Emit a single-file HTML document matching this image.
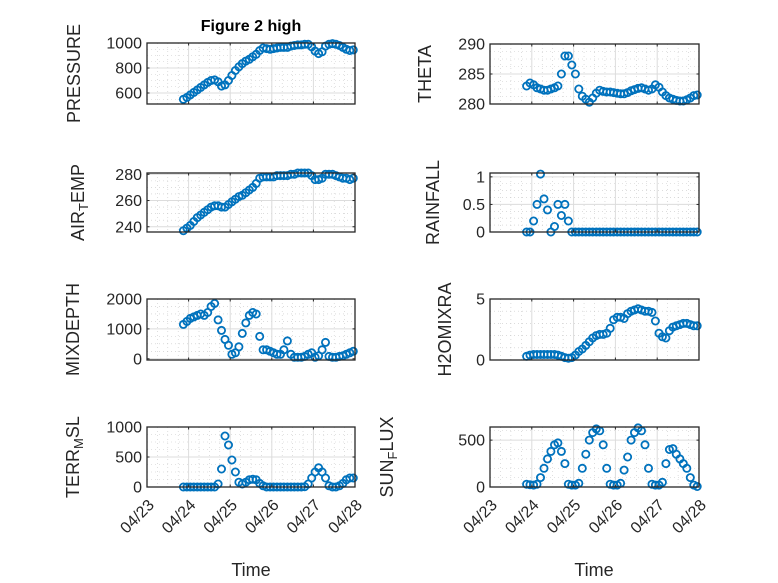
<!DOCTYPE html>
<html><head><meta charset="utf-8"><style>
html,body{margin:0;padding:0;background:#fff;}
svg{display:block;font-family:"Liberation Sans","DejaVu Sans",sans-serif;}
</style></head><body>
<svg id="fig" width="778" height="583" viewBox="0 0 778 583" xmlns="http://www.w3.org/2000/svg">
<rect x="0" y="0" width="778" height="583" fill="#fff"/>
<text x="251" y="31" text-anchor="middle" font-size="16" font-weight="bold" fill="#000">Figure 2 high</text>
<text x="251" y="576" text-anchor="middle" font-size="18" fill="#262626">Time</text>
<text x="594" y="576" text-anchor="middle" font-size="18" fill="#262626">Time</text>
</svg>
<script>
// time in days after 04/23 00:00, 2-hour steps
const times = [0.875,0.958,1.042,1.125,1.208,1.292,1.375,1.458,1.542,1.625,1.708,1.792,1.875,1.958,2.042,2.125,2.208,2.292,2.375,2.458,2.542,2.625,2.708,2.792,2.875,2.958,3.042,3.125,3.208,3.292,3.375,3.458,3.542,3.625,3.708,3.792,3.875,3.958,4.042,4.125,4.208,4.292,4.375,4.458,4.542,4.625,4.708,4.792,4.875,4.958];
const xTickLabels = ["04/23","04/24","04/25","04/26","04/27","04/28"];
const pressure = [550,565,585,605,625,645,665,685,700,705,690,655,665,700,740,780,810,835,855,870,890,910,940,960,955,950,955,960,965,965,965,975,980,985,985,990,990,970,935,915,930,975,990,995,990,980,965,950,940,945];
const airTemp = [237,239,241,244,247,249,251,253,255,256,256,255,255,257,259,261,263,264,266,268,270,273,277,278,278,278,278,279,279,279,279,280,280,281,281,281,281,279,276,276,277,280,280,280,279,278,277,277,276,277];
const mixDepth = [1150,1250,1350,1400,1450,1500,1450,1550,1750,1850,1300,950,650,450,150,200,400,850,1200,1450,1550,1500,750,300,300,250,200,150,150,300,600,150,50,50,50,80,150,200,50,100,300,550,80,50,50,80,100,150,200,250];
const terrMsl = [0,0,0,0,0,0,0,0,0,0,50,300,850,700,450,250,80,50,80,120,130,120,60,20,0,0,0,0,0,0,0,0,0,0,0,5,50,150,250,320,250,150,20,0,0,20,60,120,150,150];
const theta = [283,283.5,283.2,282.7,282.5,282.3,282.3,282.5,282.7,283,285,288,288,286.5,285,282.5,281.3,280.8,280.3,281,281.8,282.3,282.1,282,282,281.9,281.8,281.7,281.7,281.9,282.2,282.4,282.6,282.7,282.5,282.3,282.5,283.2,282.8,282,281.4,281,280.8,280.6,280.5,280.5,280.7,281,281.4,281.5];
const rainfall = [0,0,0.2,0.5,1.05,0.6,0.4,0,0.1,0.5,0.3,0.5,0.2,0,0,0,0,0,0,0,0,0,0,0,0,0,0,0,0,0,0,0,0,0,0,0,0,0,0,0,0,0,0,0,0,0,0,0,0,0];
const h2oMixRa = [0.3,0.4,0.45,0.45,0.45,0.45,0.45,0.45,0.45,0.4,0.3,0.2,0.15,0.2,0.4,0.7,0.9,1.2,1.5,1.8,2.0,2.1,2.1,2.2,2.6,3.3,3.5,3.5,3.4,3.8,4.0,4.1,4.2,4.1,4.0,4.0,3.9,3.2,2.2,1.9,1.8,2.4,2.7,2.8,2.9,3.0,3.0,2.9,2.8,2.8];
const sunFlux = [30,25,20,30,100,200,300,380,450,470,380,250,30,20,20,40,200,350,500,580,620,600,450,200,30,20,20,40,180,320,500,580,630,600,450,200,30,20,20,50,250,400,410,350,300,250,200,100,20,5];
const pressureTicks = [600,800,1000];
const airTempTicks = [240,260,280];
const mixDepthTicks = [0,1000,2000];
const terrTicks = [0,500,1000];
const thetaTicks = [280,285,290];
const rainTicks = [0,0.5,1];
const rainTickLabels = ["0","0.5","1"];
const h2oTicks = [0,5];
const sunTicks = [0,500];

const NS="http://www.w3.org/2000/svg";
const svg=document.getElementById('fig');
function mk(tag,attrs,parent){const e=document.createElementNS(NS,tag);for(const k in attrs)e.setAttribute(k,attrs[k]);(parent||svg).appendChild(e);return e;}

const panels=[
 {name:'pressure',x0:147,y0:43,w:208,h:61,ymin:512,ymax:1000,data:pressure,ticks:pressureTicks,minor:50,label:['PRESSURE'],lx:80,xl:false},
 {name:'air-temp',x0:147,y0:173,w:208,h:59,ymin:236,ymax:281,data:airTemp,ticks:airTempTicks,minor:5,label:['AIR','T','EMP'],lx:84,xl:false},
 {name:'mixdepth',x0:147,y0:299,w:208,h:61,ymin:-40,ymax:2000,data:mixDepth,ticks:mixDepthTicks,minor:250,label:['MIXDEPTH'],lx:79,xl:false},
 {name:'terr-msl',x0:147,y0:427,w:208,h:60,ymin:0,ymax:1000,data:terrMsl,ticks:terrTicks,minor:125,label:['TERR','M','SL'],lx:79,xl:true},
 {name:'theta',x0:490,y0:44,w:209,h:60,ymin:280,ymax:290,data:theta,ticks:thetaTicks,minor:1.25,label:['THETA'],lx:431,xl:false},
 {name:'rainfall',x0:490,y0:173,w:209,h:59,ymin:0,ymax:1.07,data:rainfall,ticks:rainTicks,tl:rainTickLabels,minor:0.125,label:['RAINFALL'],lx:439,xl:false},
 {name:'h2omixra',x0:490,y0:299,w:209,h:61,ymin:0,ymax:5,data:h2oMixRa,ticks:h2oTicks,minor:1,label:['H2OMIXRA'],lx:451,xl:false},
 {name:'sun-flux',x0:490,y0:427,w:209,h:60,ymin:0,ymax:640,data:sunFlux,ticks:sunTicks,minor:100,label:['SUN','F','LUX'],lx:393,xl:true}
];

panels.forEach(p=>{
 const g=mk('g',{});
 
 
 const sx=t=>p.x0+t/5*p.w;
 const sy=v=>p.y0+p.h-(v-p.ymin)/(p.ymax-p.ymin)*p.h;
 for(let t=0.25;t<5;t+=0.25){ if(Math.abs(t-Math.round(t))<1e-6)continue;
  mk('line',{x1:sx(t),x2:sx(t),y1:p.y0,y2:p.y0+p.h,stroke:'#c8c8c8','stroke-width':0.6,'stroke-dasharray':'1,3'},g);}
 for(let v=Math.ceil(p.ymin/p.minor)*p.minor;v<p.ymax;v+=p.minor){
  if(p.ticks.some(tk=>Math.abs(tk-v)<1e-6))continue;
  mk('line',{x1:p.x0,x2:p.x0+p.w,y1:sy(v),y2:sy(v),stroke:'#c8c8c8','stroke-width':0.6,'stroke-dasharray':'1,3'},g);}
 for(let d=1;d<5;d++) mk('line',{x1:sx(d),x2:sx(d),y1:p.y0,y2:p.y0+p.h,stroke:'#dcdcdc','stroke-width':1},g);
 p.ticks.forEach(v=>{ if(v>p.ymin&&v<p.ymax) mk('line',{x1:p.x0,x2:p.x0+p.w,y1:sy(v),y2:sy(v),stroke:'#dcdcdc','stroke-width':1},g);});
 p.data.forEach((v,i)=>{
  const c=mk('circle',{cx:sx(times[i]).toFixed(1),cy:sy(v).toFixed(1),r:3.6,fill:'none',stroke:'#0072BD','stroke-width':1.8},g);
  
  
 });
 mk('rect',{x:p.x0,y:p.y0,width:p.w,height:p.h,fill:'none',stroke:'#262626','stroke-width':1.3},g);
 for(let d=0;d<=5;d++){
  mk('line',{x1:sx(d),x2:sx(d),y1:p.y0+p.h,y2:p.y0+p.h-2.5,stroke:'#262626','stroke-width':1},g);
  mk('line',{x1:sx(d),x2:sx(d),y1:p.y0,y2:p.y0+2.5,stroke:'#262626','stroke-width':1},g);
 }
 p.ticks.forEach((v,k)=>{
  mk('line',{x1:p.x0,x2:p.x0+2.5,y1:sy(v),y2:sy(v),stroke:'#262626','stroke-width':1},g);
  mk('line',{x1:p.x0+p.w,x2:p.x0+p.w-2.5,y1:sy(v),y2:sy(v),stroke:'#262626','stroke-width':1},g);
  const t=mk('text',{x:p.x0-5,y:sy(v)+5.5,'text-anchor':'end','font-size':16,fill:'#262626'},g);
  
  
  t.textContent=p.tl?p.tl[k]:String(v);
 });
 if(p.xl){
  xTickLabels.forEach((s,d)=>{
   const x=sx(d)+8,y=p.y0+p.h+19;
   const t=mk('text',{x:x,y:y,'text-anchor':'end','font-size':16,fill:'#262626',transform:`rotate(-45 ${x} ${y})`},g);
   
   
   t.textContent=s;
  });
 }
 const cy=p.y0+p.h/2;
 const yl=mk('text',{x:p.lx,y:cy,'text-anchor':'middle','font-size':18,fill:'#262626',transform:`rotate(-90 ${p.lx} ${cy})`},g);
 
 
 if(p.label.length===1){yl.textContent=p.label[0];}
 else{
  const a=mk('tspan',{},yl);a.textContent=p.label[0];
  const b=mk('tspan',{'baseline-shift':'-30%','font-size':13},yl);b.textContent=p.label[1];
  const c=mk('tspan',{'baseline-shift':'0%'},yl);c.textContent=p.label[2];
 }
});
</script>
</body></html>
